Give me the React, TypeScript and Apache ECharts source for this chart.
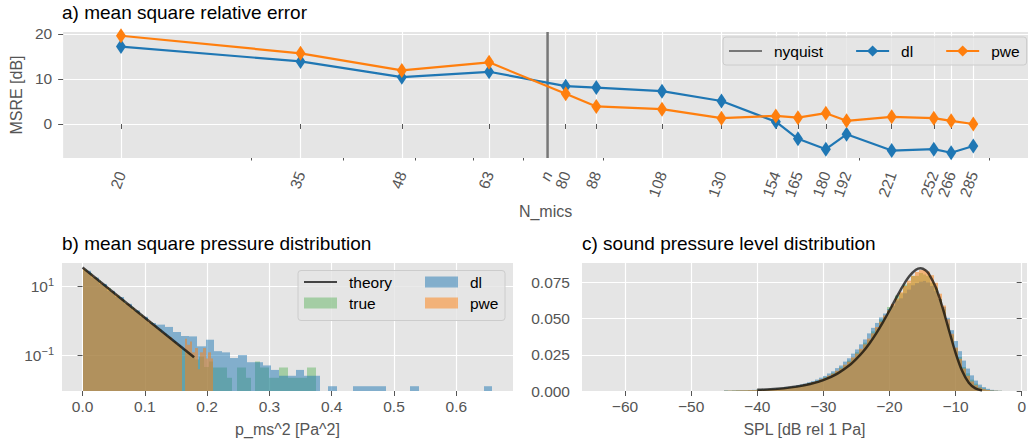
import React, { useEffect, useRef } from 'react';
import * as echarts from 'echarts';

// ---------- a) mean square relative error ----------
const nMics = [20, 35, 48, 63, 80, 88, 108, 130, 154, 165, 180, 192, 221, 252, 266, 285];
const msreDl = [17.2, 13.9, 10.4, 11.6, 8.4, 8.1, 7.3, 5.1, 0.5, -3.3, -5.6, -2.3, -5.9, -5.6, -6.4, -4.9];
const msrePwe = [19.6, 15.7, 11.9, 13.7, 6.7, 3.9, 3.3, 1.3, 1.8, 1.4, 2.4, 0.7, 1.6, 1.3, 0.7, 0.0];
const nyquistN = 75.6;
const nMajorTicks = [20, 35, 48, 63, 75.6, 80, 88, 108, 130, 154, 165, 180, 192, 221, 252, 266, 285];
const nMinorTicks = [30, 40, 50, 60, 70, 90, 200, 300];
const msreTicks = [0, 10, 20];
const msreRange = [-7.56, 20.44];
const nRange = [16.7, 338];

// ---------- b) mean square pressure distribution ----------
const pmsTicks = [0, 0.1, 0.2, 0.3, 0.4, 0.5, 0.6];
const pmsDensityTicks = [0.1, 10];
const pmsRange = [-0.033, 0.691];
const pmsDensityRange = [0.009, 48];
const pmsTrueStart = 0;
const pmsTrueWidth = 0.0075;
const pmsTrue = [31, 24.5, 18.5, 14.8, 11.2, 8.9, 6.8, 5.4, 4.1, 3.2, 2.5, 1.95, 1.5, 1.18, 0.9, 0.72, 0.56, 0.42, 0.34, 0.26,
  0.2, 0.15, 0.12, 0.095, 0.075, 0.09, 0.045, 0.065, 0.0435, 0.0435, 0.0435, 0.0218, 0, 0.0435, 0.0435, 0.0218, 0, 0.065,
  0.0435, 0.0435, 0.0218, 0.0218, 0.0435, 0.0435, 0.0218, 0.0218, 0.0218, 0.0218, 0.0435, 0.0435];
const pmsDlStart = 0;
const pmsDlWidth = 0.01316;
const pmsDl = [28.5, 18.0, 11.8, 7.4, 4.9, 3.1, 2.0, 1.3, 0.86, 0.77, 0.66, 0.47, 0.36, 0.35, 0.18, 0.28, 0.13, 0.12, 0.082, 0.1,
  0.062, 0.062, 0.05, 0.037, 0.025, 0.025, 0.037, 0.025, 0.025, 0, 0.0124, 0, 0, 0.0124, 0.0124, 0.0124, 0.0124, 0, 0, 0,
  0.0124, 0, 0, 0, 0, 0, 0, 0, 0, 0.0124];
const pmsPweStart = 0;
const pmsPweWidth = 0.0042;
const pmsPwe = [33, 29, 24, 22, 18.5, 16.8, 13.8, 12.6, 10.3, 9.6, 7.8, 7.2, 5.9, 5.4, 4.4, 4.1, 3.3, 3.1, 2.5, 2.3,
  1.9, 1.75, 1.45, 1.3, 1.1, 0.98, 0.82, 0.75, 0.62, 0.57, 0.46, 0.43, 0.36, 0.33, 0.26, 0.24, 0.2, 0.18, 0, 0.3,
  0.2, 0.25, 0.12, 0.16, 0.039, 0.12, 0.16, 0.08, 0.12, 0.08];
const pmsTheoryX = [0, 0.09, 0.179];
const pmsTheoryY = [35.3, 1.71, 0.086];

// ---------- c) sound pressure level distribution ----------
const splTicks = [-60, -50, -40, -30, -20, -10, 0];
const splDensityTicks = [0, 0.025, 0.05, 0.075];
const splRange = [-66.5, 0.8];
const splDensityRange = [0, 0.0884];
const splStart = -45;
const splWidth = 0.6;
const splTrue = [0.0003, 0.0002, 0.0004, 0.0005, 0.0004, 0.0006, 0.0006, 0.0007, 0.0009, 0.0009,
  0.001, 0.0013, 0.0014, 0.0017, 0.0018, 0.0023, 0.0026, 0.0028, 0.0035, 0.004,
  0.0044, 0.0054, 0.0059, 0.0071, 0.0079, 0.0095, 0.0104, 0.0125, 0.0136, 0.0163,
  0.0178, 0.021, 0.0226, 0.0268, 0.0285, 0.0334, 0.0352, 0.0412, 0.0432, 0.0495,
  0.051, 0.058, 0.059, 0.066, 0.0675, 0.0735, 0.0745, 0.0795, 0.0795, 0.0815,
  0.0805, 0.0795, 0.075, 0.0715, 0.0635, 0.0565, 0.0465, 0.0385, 0.0295, 0.0235,
  0.0165, 0.0122, 0.0078, 0.0051, 0.0029, 0.0018, 0.0009, 0.0005, 0.0002, 0.0001];
const splDl = [0.0004, 0.0003, 0.0004, 0.0005, 0.0006, 0.0005, 0.0007, 0.0008, 0.0009, 0.0011,
  0.0012, 0.0014, 0.0016, 0.0018, 0.0021, 0.0025, 0.0028, 0.0033, 0.0039, 0.0045,
  0.0051, 0.006, 0.0068, 0.0079, 0.0092, 0.0104, 0.0121, 0.0136, 0.0158, 0.0176,
  0.0203, 0.0226, 0.0258, 0.0287, 0.0322, 0.0356, 0.0398, 0.0436, 0.047, 0.0508,
  0.0535, 0.0565, 0.059, 0.0625, 0.064, 0.0675, 0.07, 0.073, 0.0745, 0.0755,
  0.076, 0.075, 0.0725, 0.069, 0.0635, 0.058, 0.0505, 0.042, 0.0345, 0.0275,
  0.021, 0.0155, 0.0108, 0.0072, 0.0044, 0.0027, 0.0015, 0.0008, 0.0004, 0.0002];
const splPwe = [0.0002, 0.0003, 0.0003, 0.0004, 0.0005, 0.0005, 0.0006, 0.0006, 0.0008, 0.0009,
  0.001, 0.0012, 0.0013, 0.0016, 0.0019, 0.0021, 0.0025, 0.0029, 0.0033, 0.0038,
  0.0045, 0.0051, 0.0061, 0.0068, 0.0081, 0.0091, 0.0107, 0.012, 0.014, 0.0156,
  0.0182, 0.0202, 0.0232, 0.0258, 0.0292, 0.0322, 0.0362, 0.0398, 0.0442, 0.0478,
  0.0522, 0.0558, 0.0602, 0.0638, 0.0682, 0.0725, 0.0762, 0.0795, 0.0822, 0.0835,
  0.0838, 0.0825, 0.08, 0.0748, 0.0672, 0.059, 0.0495, 0.0395, 0.03, 0.0222,
  0.0155, 0.0105, 0.0066, 0.004, 0.0023, 0.0013, 0.0007, 0.0003, 0.0002, 0.0001];
const splTheoryX = [-40, -38, -36, -34, -32, -30, -28, -26, -25, -24, -23, -22, -21, -20, -19, -18, -17, -16, -15.3, -14.5, -14, -13, -12, -11, -10, -9, -8, -7, -6];
const splTheoryY = [0.0008, 0.00123, 0.00195, 0.00307, 0.00482, 0.00755, 0.0117, 0.018, 0.0222, 0.0271, 0.033, 0.0398, 0.0474, 0.0556, 0.0641, 0.0723, 0.0792, 0.0837, 0.0847, 0.0832, 0.0806, 0.0716, 0.0581, 0.042, 0.0264, 0.0138, 0.00575, 0.0018, 0.0004];

const FONT = 'Liberation Sans';
const TICK = '#555555';
const C_BLUE = '#1f77b4';
const C_ORANGE = '#ff7f0e';
const H_GREEN = 'rgba(44,160,44,0.35)';
const H_BLUE = 'rgba(31,119,180,0.5)';
const H_ORANGE = 'rgba(255,127,14,0.5)';
const THEORY = 'rgba(0,0,0,0.7)';
const NOSYMBOL = { color: 'rgba(0,0,0,0)', borderWidth: 0, opacity: 0 };

function bins(start: number, width: number, vals: number[]) {
  return vals
    .map((v, i) => [start + i * width, start + (i + 1) * width, v])
    .filter((d) => d[2] > 0);
}

function rectRenderer(base: number) {
  return (params: any, api: any) => {
    const a = api.coord([api.value(0), api.value(2)]);
    const b = api.coord([api.value(1), base]);
    const x0 = Math.round(a[0]);
    const x1 = Math.max(Math.round(b[0]), x0 + 1);
    return {
      type: 'rect',
      shape: { x: x0, y: a[1], width: x1 - x0, height: b[1] - a[1] },
      style: { fill: api.visual('color') },
    };
  };
}

const tickStyle = (vals: number[], len = 5) => ({
  show: true,
  customValues: vals,
  length: len,
  lineStyle: { color: TICK, width: 1 },
});
const splitStyle = { show: true, lineStyle: { color: '#ffffff', width: 1.2 } };
const nameStyle = { color: TICK, fontSize: 16, fontFamily: FONT };

function buildOption() {
  return {
    animation: false,
    textStyle: { fontFamily: FONT },
    title: [
      { text: 'a) mean square relative error', left: 62, top: 3, padding: 0, textStyle: { fontSize: 19, fontWeight: 'normal', color: '#000' } },
      { text: 'b) mean square pressure distribution', left: 62, top: 234, padding: 0, textStyle: { fontSize: 19, fontWeight: 'normal', color: '#000' } },
      { text: 'c) sound pressure level distribution', left: 582, top: 234, padding: 0, textStyle: { fontSize: 19, fontWeight: 'normal', color: '#000' } },
    ],
    grid: [
      { left: 62, top: 32, width: 966, height: 126, show: true, backgroundColor: '#E5E5E5', borderWidth: 0 },
      { left: 62, top: 263, width: 451, height: 128, show: true, backgroundColor: '#E5E5E5', borderWidth: 0 },
      { left: 582, top: 263, width: 446, height: 128, show: true, backgroundColor: '#E5E5E5', borderWidth: 0 },
    ],
    legend: [
      {
        data: [{ name: 'nyquist', itemStyle: NOSYMBOL }, { name: 'dl' }, { name: 'pwe' }],
        left: 723, top: 37, orient: 'horizontal',
        itemWidth: 33, itemHeight: 14, itemGap: 32,
        padding: [6, 7, 6, 5],
        backgroundColor: 'rgba(229,229,229,0.8)', borderColor: '#cccccc', borderWidth: 1, borderRadius: 3,
        selectedMode: false,
        textStyle: { fontSize: 15.5, color: '#000', padding: [0, 0, 0, 7], fontFamily: FONT },
      },
      {
        data: [{ name: 'theory_b', itemStyle: NOSYMBOL }, { name: 'true_b', icon: 'rect' }],
        left: 303, top: 274, orient: 'vertical',
        itemWidth: 33, itemHeight: 11, itemGap: 5, padding: 0,
        selectedMode: false,
        formatter: (n: string) => n.replace('_b', ''),
        textStyle: { fontSize: 15.5, color: '#000', padding: [0, 0, 0, 7], fontFamily: FONT },
      },
      {
        data: [{ name: 'dl_b', icon: 'rect' }, { name: 'pwe_b', icon: 'rect' }],
        left: 425, top: 274, orient: 'vertical',
        itemWidth: 33, itemHeight: 11, itemGap: 5, padding: 0,
        selectedMode: false,
        formatter: (n: string) => n.replace('_b', ''),
        textStyle: { fontSize: 15.5, color: '#000', padding: [0, 0, 0, 7], fontFamily: FONT },
      },
    ],
    graphic: [
      {
        type: 'rect', x: 298, y: 270.5, z: 3,
        shape: { x: 0, y: 0, width: 207, height: 50, r: 3 },
        style: { fill: 'rgba(229,229,229,0.8)', stroke: '#cccccc', lineWidth: 1 },
      },
    ],
    xAxis: [
      {
        type: 'log', logBase: 10, gridIndex: 0, min: nRange[0], max: nRange[1],
        axisLine: { show: false },
        axisTick: tickStyle(nMajorTicks),
        splitLine: splitStyle,
        axisLabel: {
          customValues: nMajorTicks, rotate: 70, margin: 14, color: TICK, fontSize: 15.5,
          formatter: (v: number) => (Math.abs(v - nyquistN) < 0.01 ? '{it|n}' : String(Math.round(v))),
          rich: { it: { fontStyle: 'italic', fontSize: 15.5, color: TICK, fontFamily: FONT } },
        },
        name: 'N_mics', nameLocation: 'middle', nameGap: 45, nameTextStyle: nameStyle,
      },
      {
        type: 'log', logBase: 10, gridIndex: 0, min: nRange[0], max: nRange[1], position: 'bottom',
        axisLine: { show: false },
        axisTick: tickStyle(nMinorTicks, 2.5),
        splitLine: { show: false },
        axisLabel: { show: false },
      },
      {
        type: 'value', gridIndex: 1, min: pmsRange[0], max: pmsRange[1],
        axisLine: { show: false },
        axisTick: tickStyle(pmsTicks),
        splitLine: splitStyle,
        axisLabel: { customValues: pmsTicks, margin: 7, color: TICK, fontSize: 15.5, formatter: (v: number) => v.toFixed(1) },
        name: 'p_ms^2 [Pa^2]', nameLocation: 'middle', nameGap: 30, nameTextStyle: nameStyle,
      },
      {
        type: 'value', gridIndex: 2, min: splRange[0], max: splRange[1],
        axisLine: { show: false },
        axisTick: tickStyle(splTicks),
        splitLine: splitStyle,
        axisLabel: {
          customValues: splTicks, margin: 7, color: TICK, fontSize: 15.5,
          formatter: (v: number) => (v < 0 ? '\u2212' + Math.abs(v) : String(v)),
        },
        name: 'SPL [dB rel 1 Pa]', nameLocation: 'middle', nameGap: 30, nameTextStyle: nameStyle,
      },
    ],
    yAxis: [
      {
        type: 'value', gridIndex: 0, min: msreRange[0], max: msreRange[1],
        axisLine: { show: false },
        axisTick: tickStyle(msreTicks),
        splitLine: splitStyle,
        axisLabel: { customValues: msreTicks, margin: 11, color: TICK, fontSize: 15.5 },
        name: 'MSRE [dB]', nameLocation: 'middle', nameGap: 36, nameTextStyle: nameStyle,
      },
      {
        type: 'log', logBase: 10, gridIndex: 1, min: pmsDensityRange[0], max: pmsDensityRange[1],
        axisLine: { show: false },
        axisTick: tickStyle(pmsDensityTicks),
        splitLine: splitStyle,
        axisLabel: {
          customValues: pmsDensityTicks, margin: 8, color: TICK, fontSize: 15.5,
          formatter: (v: number) => (v > 1 ? '{b|10}{s|1}' : '{b|10}{s|\u22121}'),
          rich: {
            b: { fontSize: 15.5, color: TICK, lineHeight: 20, fontFamily: FONT },
            s: { fontSize: 11, color: TICK, lineHeight: 12, verticalAlign: 'top', fontFamily: FONT },
          },
        },
      },
      {
        type: 'value', gridIndex: 2, min: splDensityRange[0], max: splDensityRange[1],
        axisLine: { show: false },
        axisTick: tickStyle(splDensityTicks),
        splitLine: splitStyle,
        axisLabel: { customValues: splDensityTicks, margin: 12, color: TICK, fontSize: 15.5, formatter: (v: number) => v.toFixed(3) },
      },
    ],
    series: [
      {
        type: 'line', name: 'nyquist', xAxisIndex: 0, yAxisIndex: 0,
        data: [[nyquistN, msreRange[0]], [nyquistN, msreRange[1]]],
        symbol: 'none', lineStyle: { color: '#777777', width: 2.5 }, itemStyle: { color: '#777777' }, silent: true,
      },
      {
        type: 'line', name: 'dl', xAxisIndex: 0, yAxisIndex: 0,
        data: nMics.map((n, i) => [n, msreDl[i]]),
        symbol: 'diamond', symbolSize: [10, 15], showAllSymbol: true,
        lineStyle: { color: C_BLUE, width: 2.2 }, itemStyle: { color: C_BLUE },
      },
      {
        type: 'line', name: 'pwe', xAxisIndex: 0, yAxisIndex: 0,
        data: nMics.map((n, i) => [n, msrePwe[i]]),
        symbol: 'diamond', symbolSize: [10, 15], showAllSymbol: true,
        lineStyle: { color: C_ORANGE, width: 2.2 }, itemStyle: { color: C_ORANGE },
      },
      {
        type: 'custom', name: 'true_b', xAxisIndex: 2, yAxisIndex: 1,
        data: bins(pmsTrueStart, pmsTrueWidth, pmsTrue), encode: { x: [0, 1], y: 2 },
        renderItem: rectRenderer(pmsDensityRange[0]), itemStyle: { color: H_GREEN },
      },
      {
        type: 'custom', name: 'dl_b', xAxisIndex: 2, yAxisIndex: 1,
        data: bins(pmsDlStart, pmsDlWidth, pmsDl), encode: { x: [0, 1], y: 2 },
        renderItem: rectRenderer(pmsDensityRange[0]), itemStyle: { color: H_BLUE },
      },
      {
        type: 'custom', name: 'pwe_b', xAxisIndex: 2, yAxisIndex: 1,
        data: bins(pmsPweStart, pmsPweWidth, pmsPwe), encode: { x: [0, 1], y: 2 },
        renderItem: rectRenderer(pmsDensityRange[0]), itemStyle: { color: H_ORANGE },
      },
      {
        type: 'line', name: 'theory_b', xAxisIndex: 2, yAxisIndex: 1,
        data: pmsTheoryX.map((x, i) => [x, pmsTheoryY[i]]),
        symbol: 'none', lineStyle: { color: THEORY, width: 2.5 }, itemStyle: { color: THEORY }, z: 3,
      },
      {
        type: 'custom', name: 'true_c', xAxisIndex: 3, yAxisIndex: 2,
        data: bins(splStart, splWidth, splTrue), encode: { x: [0, 1], y: 2 },
        renderItem: rectRenderer(0), itemStyle: { color: H_GREEN },
      },
      {
        type: 'custom', name: 'dl_c', xAxisIndex: 3, yAxisIndex: 2,
        data: bins(splStart, splWidth, splDl), encode: { x: [0, 1], y: 2 },
        renderItem: rectRenderer(0), itemStyle: { color: H_BLUE },
      },
      {
        type: 'custom', name: 'pwe_c', xAxisIndex: 3, yAxisIndex: 2,
        data: bins(splStart, splWidth, splPwe), encode: { x: [0, 1], y: 2 },
        renderItem: rectRenderer(0), itemStyle: { color: H_ORANGE },
      },
      {
        type: 'line', name: 'theory_c', xAxisIndex: 3, yAxisIndex: 2,
        data: splTheoryX.map((x, i) => [x, splTheoryY[i]]),
        symbol: 'none', smooth: 0.3, lineStyle: { color: THEORY, width: 2.5 }, itemStyle: { color: THEORY }, z: 3,
      },
    ],
  };
}

export default function App() {
  const ref = useRef<HTMLDivElement>(null);
  useEffect(() => {
    if (!ref.current) return;
    const chart = echarts.init(ref.current, undefined, { renderer: 'svg' });
    chart.setOption(buildOption() as any);
    return () => chart.dispose();
  }, []);
  return (
    <div
      ref={ref}
      style={{ position: 'fixed', left: 0, top: 0, width: 1029, height: 441, background: '#ffffff' }}
    />
  );
}
